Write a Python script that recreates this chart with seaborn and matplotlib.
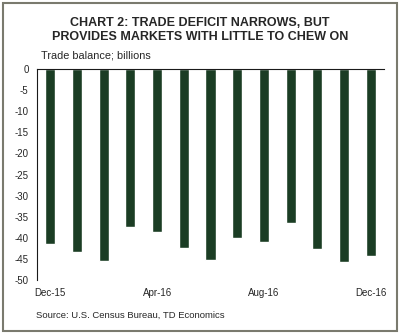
import matplotlib
matplotlib.use("Agg")
import matplotlib.pyplot as plt
import seaborn as sns
import pandas as pd
from matplotlib.patches import Rectangle

sns.set_theme(style="white")
plt.rcParams["font.family"] = ["Liberation Sans", "DejaVu Sans"]

months = ["Dec-15", "Jan-16", "Feb-16", "Mar-16", "Apr-16", "May-16", "Jun-16",
          "Jul-16", "Aug-16", "Sep-16", "Oct-16", "Nov-16", "Dec-16"]
balance = [-41.5, -43.4, -45.6, -37.4, -38.6, -42.3, -45.2,
           -40.0, -41.0, -36.5, -42.7, -45.8, -44.3]
yticks = [0, -5, -10, -15, -20, -25, -30, -35, -40, -45, -50]
shown_labels = ["Dec-15", "Apr-16", "Aug-16", "Dec-16"]

df = pd.DataFrame({"month": months, "balance": balance})

fig = plt.figure(figsize=(4.0, 3.35), dpi=100)
ax = fig.add_axes([0.0925, 0.164, 0.8675, 0.630])

sns.barplot(data=df, x="month", y="balance", color="#1b3d24", width=0.38,
            saturation=1, ax=ax)

ax.set_xlim(-0.5, len(months) - 0.5)
ax.set_ylim(-50, 0)
ax.set_yticks(yticks)
ax.set_yticklabels([str(v) for v in yticks], fontsize=7)
ax.set_xticks(range(len(months)))
ax.set_xticklabels([m if m in shown_labels else "" for m in months], fontsize=7)
ax.set_xlabel("")
ax.set_ylabel("")
ax.tick_params(axis="both", length=0, pad=6)
ax.tick_params(axis="x", pad=6)

for side in ["right", "bottom"]:
    ax.spines[side].set_visible(False)
for side in ["left", "top"]:
    ax.spines[side].set_color("#1a1a1a")
    ax.spines[side].set_linewidth(0.8)

fig.text(0.5, 0.932, "CHART 2: TRADE DEFICIT NARROWS, BUT", ha="center", va="center",
         fontsize=9.0, fontweight="bold")
fig.text(0.5, 0.889, "PROVIDES MARKETS WITH LITTLE TO CHEW ON", ha="center", va="center",
         fontsize=9.0, fontweight="bold")
fig.text(0.103, 0.833, "Trade balance; billions", ha="left", va="center", fontsize=7.8)
fig.text(0.09, 0.06, "Source: U.S. Census Bureau, TD Economics", ha="left", va="center",
         fontsize=6.8)

fig.patches.append(Rectangle((0.007, 0.012), 0.986, 0.979, transform=fig.transFigure,
                             fill=False, edgecolor="#7a7a6e", linewidth=1.5))

fig.savefig("out.png", dpi=100, facecolor="white")
